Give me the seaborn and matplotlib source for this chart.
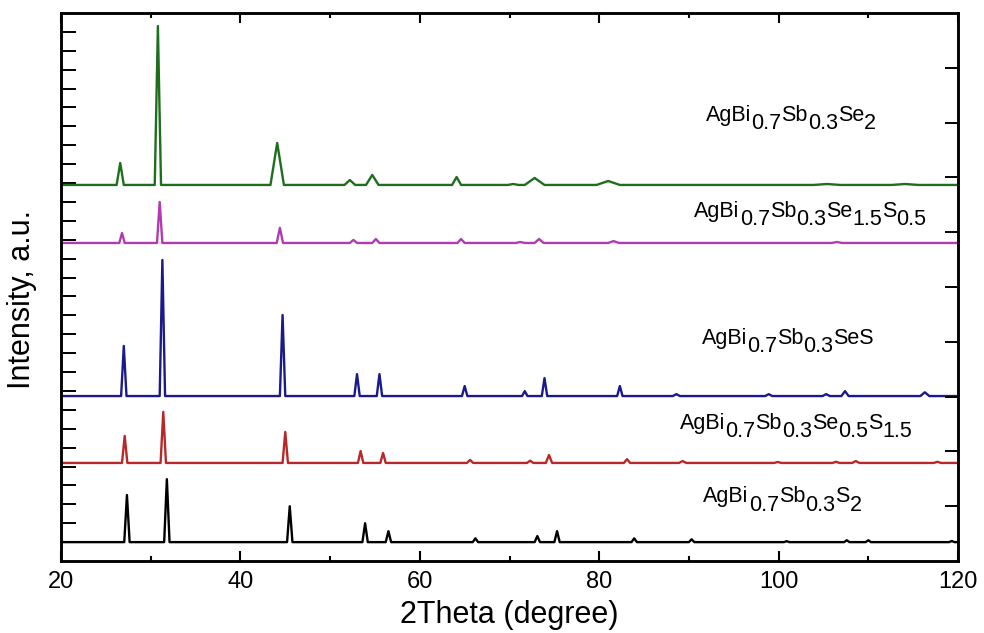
import matplotlib
matplotlib.use("Agg")
import matplotlib.pyplot as plt
from matplotlib.ticker import MultipleLocator
import pandas as pd
import seaborn as sns

# XRD peaks: position (2theta), height above baseline, half base width
samples = ["S2", "Se0.5S1.5", "SeS", "Se1.5S0.5", "Se2"]
baselines = [1.0, 5.19, 8.73, 16.83, 19.9]

s2_pos = [27.35, 31.8, 45.5, 53.9, 56.5, 66.2, 73.1, 75.3, 83.9, 90.3, 100.9, 107.6, 110.0, 119.3]
s2_h = [2.49, 3.33, 1.9, 1.0, 0.58, 0.2, 0.32, 0.58, 0.2, 0.15, 0.05, 0.1, 0.1, 0.06]
s2_w = [0.3, 0.3, 0.3, 0.3, 0.3, 0.3, 0.3, 0.3, 0.3, 0.3, 0.3, 0.3, 0.3, 0.3]

se05_pos = [27.1, 31.4, 45.0, 53.4, 55.9, 65.6, 72.3, 74.4, 83.1, 89.3, 99.9, 106.4, 108.6, 117.7]
se05_h = [1.43, 2.7, 1.64, 0.63, 0.53, 0.16, 0.12, 0.42, 0.2, 0.1, 0.05, 0.06, 0.1, 0.06]
se05_w = [0.3, 0.3, 0.3, 0.3, 0.3, 0.35, 0.35, 0.35, 0.35, 0.4, 0.4, 0.4, 0.4, 0.4]

ses_pos = [27.0, 31.3, 44.7, 53.0, 55.5, 65.0, 71.7, 73.9, 82.3, 88.6, 98.9, 105.3, 107.4, 116.3]
ses_h = [2.65, 7.2, 4.29, 1.16, 1.16, 0.53, 0.26, 0.95, 0.53, 0.1, 0.1, 0.1, 0.26, 0.2]
ses_w = [0.3, 0.3, 0.3, 0.3, 0.3, 0.3, 0.3, 0.3, 0.3, 0.4, 0.4, 0.4, 0.4, 0.5]

se15_pos = [26.8, 31.0, 44.4, 52.6, 55.1, 64.6, 71.2, 73.3, 81.6, 106.5]
se15_h = [0.53, 2.17, 0.8, 0.16, 0.21, 0.21, 0.05, 0.21, 0.1, 0.05]
se15_w = [0.3, 0.3, 0.35, 0.4, 0.4, 0.4, 0.5, 0.5, 0.6, 0.6]

se2_pos = [26.6, 30.8, 44.1, 52.2, 54.7, 64.1, 70.4, 72.8, 81.0, 105.4, 114.1]
se2_h = [1.16, 8.41, 2.22, 0.26, 0.53, 0.42, 0.05, 0.37, 0.21, 0.05, 0.05]
se2_w = [0.4, 0.35, 0.75, 0.6, 0.7, 0.5, 0.6, 1.1, 1.3, 1.5, 1.5]

colors = ["#000000", "#b82828", "#1a1a8c", "#b03cb0", "#1e6e1e"]

# labels: (text, is_subscript)
labels = [
    [("AgBi", 0), ("0.7", 1), ("Sb", 0), ("0.3", 1), ("S", 0), ("2", 1)],
    [("AgBi", 0), ("0.7", 1), ("Sb", 0), ("0.3", 1), ("Se", 0), ("0.5", 1), ("S", 0), ("1.5", 1)],
    [("AgBi", 0), ("0.7", 1), ("Sb", 0), ("0.3", 1), ("SeS", 0)],
    [("AgBi", 0), ("0.7", 1), ("Sb", 0), ("0.3", 1), ("Se", 0), ("1.5", 1), ("S", 0), ("0.5", 1)],
    [("AgBi", 0), ("0.7", 1), ("Sb", 0), ("0.3", 1), ("Se", 0), ("2", 1)],
]
label_x = [91.6, 89.0, 91.4, 90.6, 91.9]
label_y = [3.1, 7.0, 11.5, 18.2, 23.3]

peaks = [(s2_pos, s2_h, s2_w), (se05_pos, se05_h, se05_w), (ses_pos, ses_h, ses_w),
         (se15_pos, se15_h, se15_w), (se2_pos, se2_h, se2_w)]


def pattern(name, base, pos, height, width):
    xs, ys = [20.0], [base]
    for p, h, w in zip(pos, height, width):
        xs += [p - w, p, p + w]
        ys += [base, base + h, base]
    xs.append(120.0)
    ys.append(base)
    return pd.DataFrame({"two_theta": xs, "intensity": ys, "sample": name})


df = pd.concat([pattern(n, b, *pk) for n, b, pk in zip(samples, baselines, peaks)],
               ignore_index=True)

sns.set_style("ticks")
plt.rcParams["font.family"] = ["Liberation Sans", "DejaVu Sans"]
plt.rcParams.update({"text.color": "black", "axes.labelcolor": "black",
                     "xtick.color": "black", "ytick.color": "black",
                     "axes.edgecolor": "black"})

fig = plt.figure(figsize=(9.84, 6.33), dpi=100)
ax = fig.add_axes([0.062, 0.1137, 0.9116, 0.8658])

sns.lineplot(data=df, x="two_theta", y="intensity", hue="sample",
             palette=dict(zip(samples, colors)), estimator=None, sort=False,
             legend=False, linewidth=1.7, ax=ax)

ax.set_xlim(20, 120)
ax.set_ylim(0, 29)
ax.xaxis.set_major_locator(MultipleLocator(20))
ax.xaxis.set_minor_locator(MultipleLocator(10))
ax.set_yticks(range(1, 29))
ax.tick_params(axis="x", which="major", direction="in", top=True, length=7, width=1.5,
               labelsize=17, pad=7)
ax.tick_params(axis="x", which="minor", direction="in", top=True, length=3.5, width=1.5)
ax.tick_params(axis="y", direction="in", left=True, right=False, length=11, width=1.4,
               labelleft=False)
for sp in ax.spines.values():
    sp.set_linewidth(1.8)

ax2 = ax.twinx()
ax2.set_ylim(0, 10)
ax2.set_yticks(range(1, 10))
ax2.tick_params(axis="y", direction="in", length=9.5, width=1.4, labelright=False)
for sp in ax2.spines.values():
    sp.set_linewidth(1.8)

ax.set_xlabel("2Theta (degree)", fontsize=22, labelpad=5)
ax.set_ylabel("Intensity, a.u.", fontsize=22)
ax.yaxis.set_label_coords(-0.027, 0.478)

# formula labels: chain of texts, subscripts lowered
for parts, x, y in zip(labels, label_x, label_y):
    prev = ax.text(x, y, parts[0][0], fontsize=15.5, ha="left", va="baseline")
    prev_sub = parts[0][1]
    for txt, sub in parts[1:]:
        dy = 0
        if sub and not prev_sub:
            dy = -6
        elif prev_sub and not sub:
            dy = 6
        prev = ax.annotate(txt, xy=(1, 0), xycoords=prev, xytext=(0, dy),
                           textcoords="offset points", fontsize=15.5,
                           ha="left", va="bottom")
        prev_sub = sub

fig.savefig("out.png", dpi=100)
